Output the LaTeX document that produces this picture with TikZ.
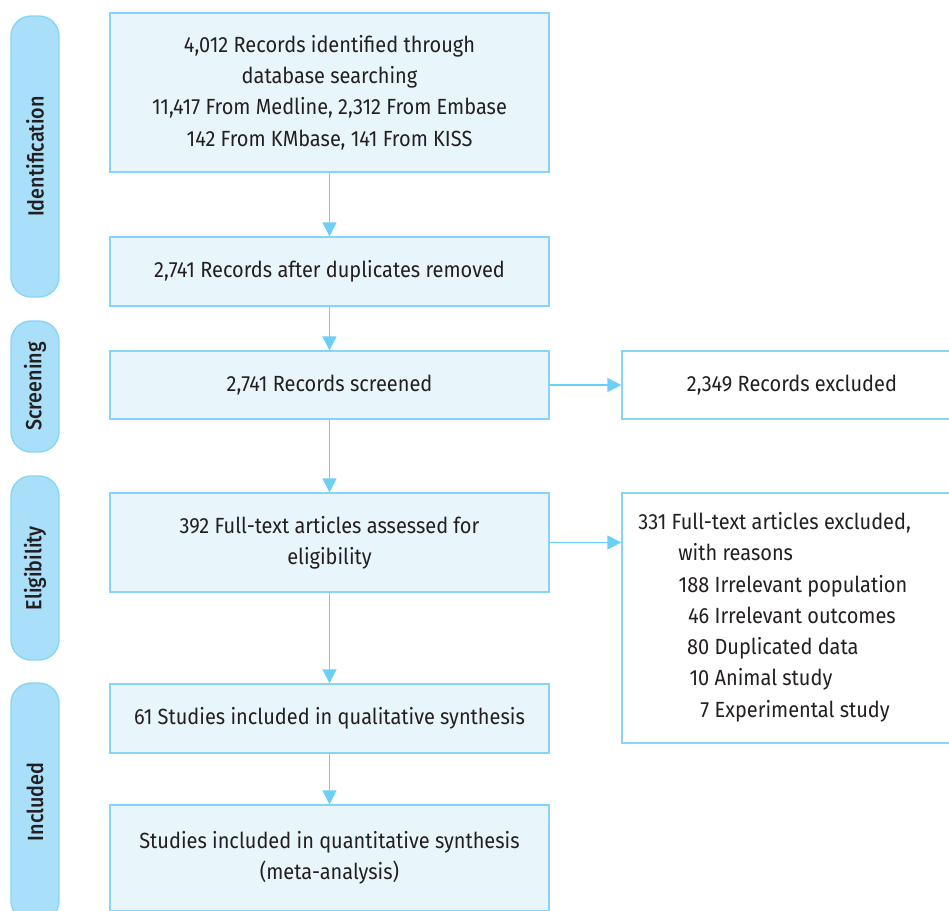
\documentclass[tikz,border=0pt]{standalone}
\usepackage{fontspec}
\setmainfont[FakeStretch=0.91]{Fira Sans}
\newfontfamily\stagefont[FakeStretch=0.9]{Fira Sans Medium}
\usetikzlibrary{arrows.meta}

\definecolor{boxfill}{HTML}{E8F6FC}
\definecolor{boxline}{HTML}{86D5F6}
\definecolor{pillfill}{HTML}{A9DFF8}
\definecolor{flowline}{HTML}{6CCFF6}
\definecolor{inktext}{HTML}{231F20}

% one reason line: number right aligned, then the reason
\newcommand{\reason}[2]{\hspace*{0.8cm}\makebox[0.62cm][r]{#1} #2}

\begin{document}
\begin{tikzpicture}[x=0.02cm,y=-0.02cm,>={Triangle[length=0.28cm,width=0.28cm]},
  every node/.style={font=\fontsize{12.5}{17.8}\selectfont,text=inktext},
  stepbox/.style={draw=boxline,fill=boxfill,line width=0.75pt,minimum width=8.78cm,align=center,inner sep=0pt},
  outbox/.style={draw=boxline,fill=white,line width=0.75pt,minimum width=6.8cm,inner sep=0pt},
  stage/.style={draw=boxline,fill=pillfill,line width=0.75pt,rounded corners=0.4cm,minimum width=0.96cm,inner sep=0pt},
  stagetext/.style={rotate=90,font=\stagefont\fontsize{12.5}{15}\selectfont},
  flow/.style={draw=flowline,line width=0.75pt,->}]
  \useasboundingbox (0,0) rectangle (949,910);
  \clip (0,0) rectangle (949,910);

  % phases on the left
  \node[stage,minimum height=5.62cm] (ident) at (35,156.5) {};
  \node[stagetext] at (ident.center) {Identification};
  \node[stage,minimum height=2.62cm] (screen) at (35,386.5) {};
  \node[stagetext] at (screen.center) {Screening};
  \node[stage,minimum height=3.68cm] (elig) at (35,568) {};
  \node[stagetext] at (elig.center) {Eligibility};
  \node[stage,minimum height=4.76cm] (incl) at (35,802) {};
  \node[stagetext] at (incl.center) {Included};

  % main column
  \node[stepbox,minimum height=3.18cm] (found) at (329.5,92.5)
    {4,012 Records identified through\\database searching\\11,417 From Medline, 2,312 From Embase\\142 From KMbase, 141 From KISS};
  \node[stepbox,minimum height=1.38cm] (dedup) at (329.5,271.5) {2,741 Records after duplicates removed};
  \node[stepbox,minimum height=1.36cm] (screened) at (329.5,385) {2,741 Records screened};
  \node[stepbox,minimum height=1.98cm] (fulltext) at (329.5,542.5) {392 Full-text articles assessed for\\eligibility};
  \node[stepbox,minimum height=1.38cm] (qual) at (329.5,718.5) {61 Studies included in qualitative synthesis};
  \node[stepbox,minimum height=2.12cm] (quant) at (329.5,858) {Studies included in quantitative synthesis\\(meta-analysis)};

  % exclusions on the right
  \node[outbox,minimum height=1.36cm] (recex) at (792,385) {2,349 Records excluded};
  \node[outbox,minimum height=5cm] (artex) at (792,618) {};
  \node[anchor=north west,align=left,inner sep=0pt] (reasons) at (638,512)
    {331 Full-text articles excluded,\\
     \hspace*{0.8cm}with reasons\\
     \reason{188}{Irrelevant population}\\
     \reason{46}{Irrelevant outcomes}\\
     \reason{80}{Duplicated data}\\
     \reason{10}{Animal study}\\
     \reason{7}{Experimental study}};

  % connectors
  \draw[flow] (found) -- (dedup);
  \draw[flow] (dedup) -- (screened);
  \draw[flow] (screened) -- (fulltext);
  \draw[flow] (fulltext) -- (qual);
  \draw[flow] (qual) -- (quant);
  \draw[flow] (screened) -- (recex);
  \draw[flow] (fulltext.east) -- (artex.west |- fulltext.east);
\end{tikzpicture}
\end{document}
